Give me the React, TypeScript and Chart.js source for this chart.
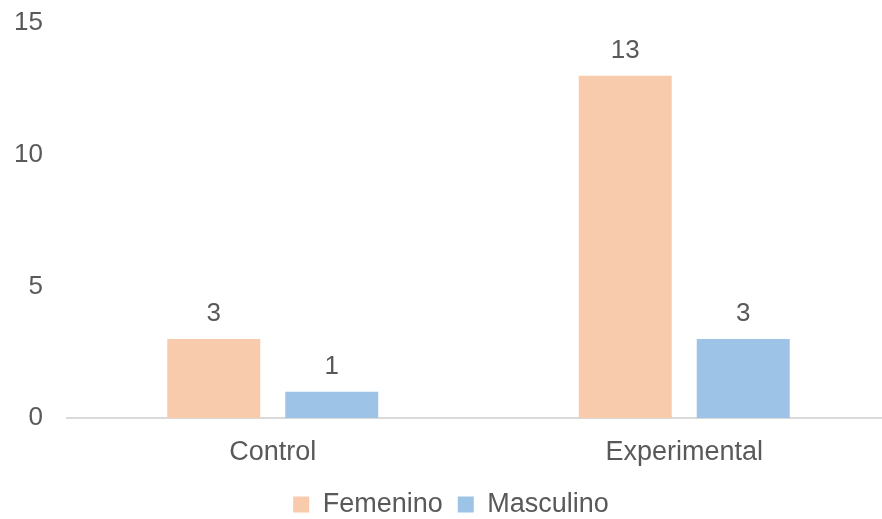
import React, { useEffect, useRef } from "react";
import { Chart, registerables } from "chart.js";

Chart.register(...registerables);

const groups = ["Control", "Experimental"];
const femenino = [3, 13];
const masculino = [1, 3];
const yTicks = [0, 5, 10, 15];

const TEXT = "#595959";
const FONT = "'Liberation Sans', Arial, sans-serif";

// Writes each bar's value just above its top edge
const valueLabels = {
  id: "valueLabels",
  afterDatasetsDraw(chart: any) {
    const ctx = chart.ctx;
    ctx.save();
    ctx.fillStyle = TEXT;
    ctx.font = `26px ${FONT}`;
    ctx.textAlign = "center";
    ctx.textBaseline = "alphabetic";
    chart.data.datasets.forEach((ds: any, i: number) => {
      const meta = chart.getDatasetMeta(i);
      meta.data.forEach((bar: any, j: number) => {
        ctx.fillText(String(ds.data[j]), bar.x, bar.y - 18);
      });
    });
    ctx.restore();
  },
};

export default function App() {
  const ref = useRef<HTMLCanvasElement>(null);

  useEffect(() => {
    if (!ref.current) return;
    const chart = new Chart(ref.current, {
      type: "bar",
      data: {
        labels: groups,
        datasets: [
          {
            label: "Femenino",
            data: femenino,
            backgroundColor: "#F8CBAD",
            categoryPercentage: 0.5735,
            barPercentage: 0.788,
          },
          {
            label: "Masculino",
            data: masculino,
            backgroundColor: "#9DC3E6",
            categoryPercentage: 0.5735,
            barPercentage: 0.788,
          },
        ],
      },
      options: {
        animation: false,
        responsive: false,
        layout: { padding: { left: 12, right: 0, top: 23, bottom: -9 } },
        plugins: {
          tooltip: { enabled: false },
          legend: {
            position: "bottom",
            labels: {
              color: TEXT,
              font: { family: FONT, size: 27 },
              boxWidth: 16,
              boxHeight: 16,
              padding: 15,
            },
          },
        },
        scales: {
          x: {
            grid: { display: false },
            border: { display: true, color: "#D9D9D9", width: 2 },
            ticks: { color: TEXT, font: { family: FONT, size: 27 }, padding: 10 },
            afterFit: (axis: any) => {
              axis.height = 58;
            },
          },
          y: {
            min: yTicks[0],
            max: yTicks[yTicks.length - 1],
            grid: { display: false },
            border: { display: false },
            afterBuildTicks: (axis: any) => {
              axis.ticks = yTicks.map((v) => ({ value: v }));
            },
            afterFit: (axis: any) => {
              axis.width = 55;
              axis.paddingTop = 0;
              axis.paddingBottom = 0;
            },
            ticks: { color: TEXT, font: { family: FONT, size: 26 }, padding: 16 },
          },
        },
      },
      plugins: [valueLabels],
    });
    return () => chart.destroy();
  }, []);

  // The plot runs slightly past the right edge of the visible frame
  return (
    <div
      style={{
        position: "fixed",
        left: 0,
        top: 0,
        width: 882,
        height: 519,
        overflow: "hidden",
        background: "#fff",
      }}
    >
      <canvas ref={ref} width={890} height={519} />
    </div>
  );
}
